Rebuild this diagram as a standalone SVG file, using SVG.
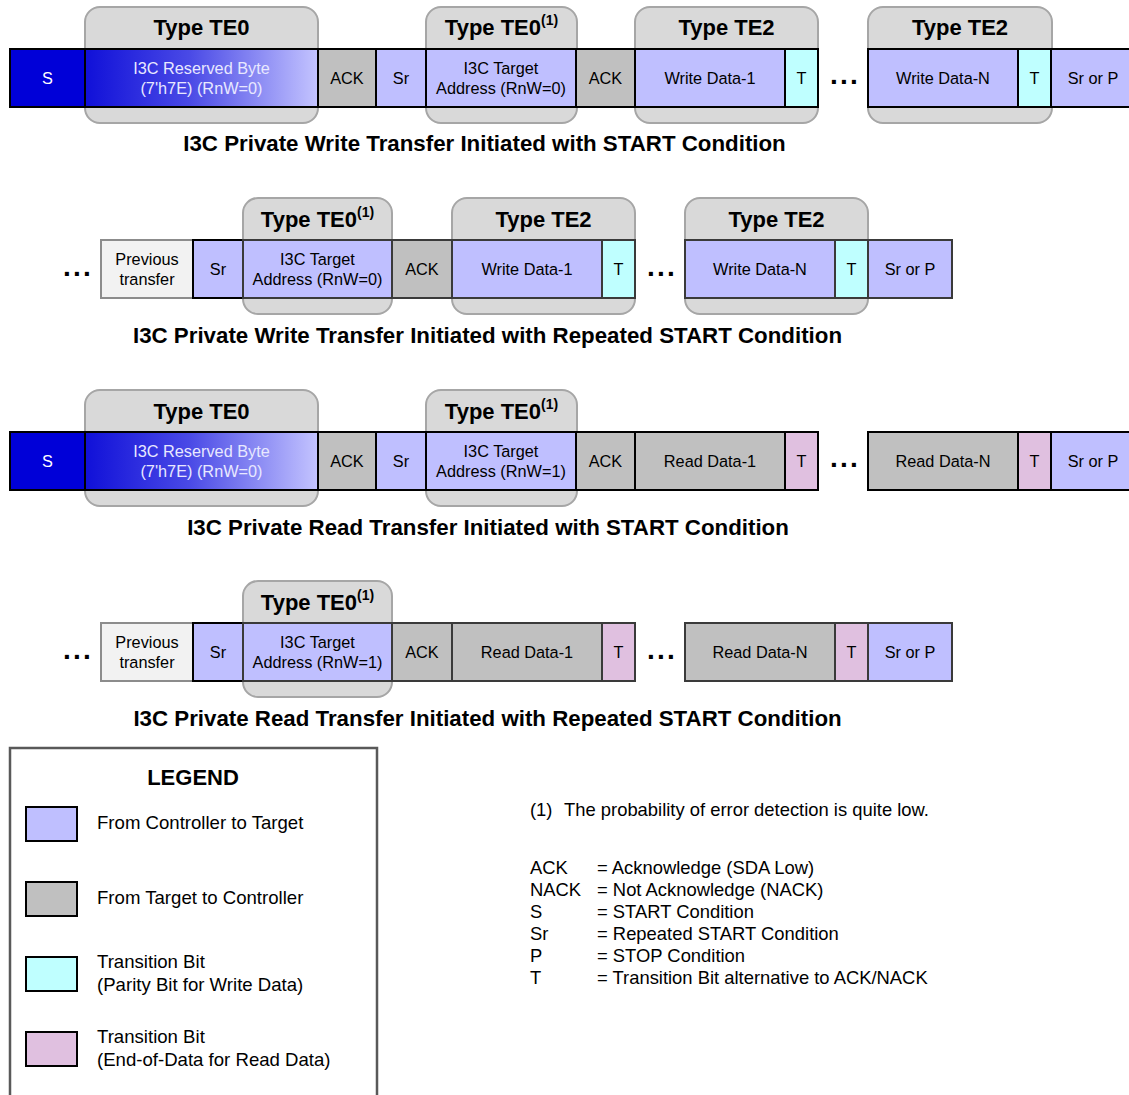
<svg xmlns="http://www.w3.org/2000/svg" width="1129" height="1095" viewBox="0 0 1129 1095">
  <defs>
    <linearGradient id="rsvGrad" x1="0" y1="0" x2="1" y2="0">
      <stop offset="0" stop-color="#1010d8"/>
      <stop offset="0.45" stop-color="#4a4ae6"/>
      <stop offset="1" stop-color="#c4c4ff"/>
    </linearGradient>
    <style>
      .grp{fill:#d9d9d9;stroke:#a6a6a6;stroke-width:2}
      .b{stroke:#000;stroke-width:2}
      .b2{stroke:#3a3a3a;stroke-width:2}
      .ctl{fill:#bfbfff}
      .tgt{fill:#c0c0c0}
      .par{fill:#bfffff}
      .eod{fill:#e0c0e0}
      .prev{fill:#f2f2f2;stroke:#8c8c8c;stroke-width:2}
      .start{fill:#0000d8}
      text{font-family:"Liberation Sans",Arial,Helvetica,sans-serif}
      .lbl{font-size:16.3px;text-anchor:middle;fill:#000}
      .wlbl{font-size:16.3px;text-anchor:middle;fill:#e8e8ff}
      .cap{font-size:22px;font-weight:bold;text-anchor:middle;fill:#000}
      .sup{font-size:14px}
      .ttl{font-size:22.3px;font-weight:bold;text-anchor:middle;fill:#000}
      .dots{font-size:28px;font-weight:bold;text-anchor:middle;letter-spacing:2.2px;fill:#000}
      .leg{font-size:18.6px;fill:#000}
      .note{font-size:18.4px;fill:#000}
    </style>
  </defs>

  <!-- Type group frames (drawn behind the bit fields) -->
  <g id="frames">
    <g id="row1-frames">
      <rect class="grp" x="85" y="7" width="233" height="116" rx="15"/>
      <rect class="grp" x="426" y="7" width="151" height="116" rx="15"/>
      <rect class="grp" x="635" y="7" width="183" height="116" rx="15"/>
      <rect class="grp" x="868" y="7" width="184" height="116" rx="15"/>
      <text class="cap" x="201.5" y="35">Type TE0</text>
      <text class="cap" x="501.5" y="35">Type TE0<tspan class="sup" dy="-10">(1)</tspan></text>
      <text class="cap" x="726.5" y="35">Type TE2</text>
      <text class="cap" x="960" y="35">Type TE2</text>
    </g>
    <g id="row2-frames">
      <rect class="grp" x="243" y="198" width="149" height="116" rx="15"/>
      <rect class="grp" x="452" y="198" width="183" height="116" rx="15"/>
      <rect class="grp" x="685" y="198" width="183" height="116" rx="15"/>
      <text class="cap" x="317.5" y="227">Type TE0<tspan class="sup" dy="-10">(1)</tspan></text>
      <text class="cap" x="543.5" y="227">Type TE2</text>
      <text class="cap" x="776.5" y="227">Type TE2</text>
    </g>
    <g id="row3-frames">
      <rect class="grp" x="85" y="390" width="233" height="116" rx="15"/>
      <rect class="grp" x="426" y="390" width="151" height="116" rx="15"/>
      <text class="cap" x="201.5" y="419">Type TE0</text>
      <text class="cap" x="501.5" y="419">Type TE0<tspan class="sup" dy="-10">(1)</tspan></text>
    </g>
    <g id="row4-frames">
      <rect class="grp" x="243" y="581" width="149" height="116" rx="15"/>
      <text class="cap" x="317.5" y="610">Type TE0<tspan class="sup" dy="-10">(1)</tspan></text>
    </g>
  </g>

  <!-- Row 1: private write, START -->
  <g id="row1">
    <rect class="b start" x="10" y="49" width="75" height="58"/>
    <text class="wlbl" x="47.5" y="84" style="fill:#fff">S</text>
    <rect class="b" x="85" y="49" width="233" height="58" fill="url(#rsvGrad)"/>
    <text class="wlbl" x="201.5" y="74">I3C Reserved Byte</text>
    <text class="wlbl" x="201.5" y="94">(7'h7E) (RnW=0)</text>
    <rect class="b tgt" x="318" y="49" width="58" height="58"/>
    <text class="lbl" x="347" y="84">ACK</text>
    <rect class="b ctl" x="376" y="49" width="50" height="58"/>
    <text class="lbl" x="401" y="84">Sr</text>
    <rect class="b ctl" x="426" y="49" width="150" height="58"/>
    <text class="lbl" x="501" y="74">I3C Target</text>
    <text class="lbl" x="501" y="94">Address (RnW=0)</text>
    <rect class="b tgt" x="576" y="49" width="59" height="58"/>
    <text class="lbl" x="605.5" y="84">ACK</text>
    <rect class="b ctl" x="635" y="49" width="150" height="58"/>
    <text class="lbl" x="710" y="84">Write Data-1</text>
    <rect class="b par" x="785" y="49" width="33" height="58"/>
    <text class="lbl" x="801.5" y="84">T</text>
    <text class="dots" x="845" y="84">...</text>
    <rect class="b ctl" x="868" y="49" width="150" height="58"/>
    <text class="lbl" x="943" y="84">Write Data-N</text>
    <rect class="b par" x="1018" y="49" width="33" height="58"/>
    <text class="lbl" x="1034.5" y="84">T</text>
    <rect class="b ctl" x="1051" y="49" width="90" height="58"/>
    <text class="lbl" x="1093" y="84">Sr or P</text>
    <text class="ttl" x="484.5" y="151">I3C Private Write Transfer Initiated with START Condition</text>
  </g>

  <!-- Row 2: private write, repeated START -->
  <g id="row2">
    <text class="dots" x="78" y="276">...</text>
    <rect class="prev" x="101" y="240" width="92" height="58"/>
    <text class="lbl" x="147" y="265">Previous</text>
    <text class="lbl" x="147" y="285">transfer</text>
    <rect class="b ctl" x="193" y="240" width="50" height="58"/>
    <text class="lbl" x="218" y="275">Sr</text>
    <rect class="b2 ctl" x="243" y="240" width="149" height="58"/>
    <text class="lbl" x="317.5" y="265">I3C Target</text>
    <text class="lbl" x="317.5" y="285">Address (RnW=0)</text>
    <rect class="b2 tgt" x="392" y="240" width="60" height="58"/>
    <text class="lbl" x="422" y="275">ACK</text>
    <rect class="b2 ctl" x="452" y="240" width="150" height="58"/>
    <text class="lbl" x="527" y="275">Write Data-1</text>
    <rect class="b2 par" x="602" y="240" width="33" height="58"/>
    <text class="lbl" x="618.5" y="275">T</text>
    <text class="dots" x="662" y="276">...</text>
    <rect class="b2 ctl" x="685" y="240" width="150" height="58"/>
    <text class="lbl" x="760" y="275">Write Data-N</text>
    <rect class="b2 par" x="835" y="240" width="33" height="58"/>
    <text class="lbl" x="851.5" y="275">T</text>
    <rect class="b2 ctl" x="868" y="240" width="84" height="58"/>
    <text class="lbl" x="910" y="275">Sr or P</text>
    <text class="ttl" x="487.5" y="343">I3C Private Write Transfer Initiated with Repeated START Condition</text>
  </g>

  <!-- Row 3: private read, START -->
  <g id="row3">
    <rect class="b start" x="10" y="432" width="75" height="58"/>
    <text class="wlbl" x="47.5" y="467" style="fill:#fff">S</text>
    <rect class="b" x="85" y="432" width="233" height="58" fill="url(#rsvGrad)"/>
    <text class="wlbl" x="201.5" y="457">I3C Reserved Byte</text>
    <text class="wlbl" x="201.5" y="477">(7'h7E) (RnW=0)</text>
    <rect class="b tgt" x="318" y="432" width="58" height="58"/>
    <text class="lbl" x="347" y="467">ACK</text>
    <rect class="b ctl" x="376" y="432" width="50" height="58"/>
    <text class="lbl" x="401" y="467">Sr</text>
    <rect class="b ctl" x="426" y="432" width="150" height="58"/>
    <text class="lbl" x="501" y="457">I3C Target</text>
    <text class="lbl" x="501" y="477">Address (RnW=1)</text>
    <rect class="b tgt" x="576" y="432" width="59" height="58"/>
    <text class="lbl" x="605.5" y="467">ACK</text>
    <rect class="b tgt" x="635" y="432" width="150" height="58"/>
    <text class="lbl" x="710" y="467">Read Data-1</text>
    <rect class="b eod" x="785" y="432" width="33" height="58"/>
    <text class="lbl" x="801.5" y="467">T</text>
    <text class="dots" x="845" y="467">...</text>
    <rect class="b tgt" x="868" y="432" width="150" height="58"/>
    <text class="lbl" x="943" y="467">Read Data-N</text>
    <rect class="b eod" x="1018" y="432" width="33" height="58"/>
    <text class="lbl" x="1034.5" y="467">T</text>
    <rect class="b ctl" x="1051" y="432" width="90" height="58"/>
    <text class="lbl" x="1093" y="467">Sr or P</text>
    <text class="ttl" x="488" y="535">I3C Private Read Transfer Initiated with START Condition</text>
  </g>

  <!-- Row 4: private read, repeated START -->
  <g id="row4">
    <text class="dots" x="78" y="659">...</text>
    <rect class="prev" x="101" y="623" width="92" height="58"/>
    <text class="lbl" x="147" y="648">Previous</text>
    <text class="lbl" x="147" y="668">transfer</text>
    <rect class="b ctl" x="193" y="623" width="50" height="58"/>
    <text class="lbl" x="218" y="658">Sr</text>
    <rect class="b2 ctl" x="243" y="623" width="149" height="58"/>
    <text class="lbl" x="317.5" y="648">I3C Target</text>
    <text class="lbl" x="317.5" y="668">Address (RnW=1)</text>
    <rect class="b2 tgt" x="392" y="623" width="60" height="58"/>
    <text class="lbl" x="422" y="658">ACK</text>
    <rect class="b2 tgt" x="452" y="623" width="150" height="58"/>
    <text class="lbl" x="527" y="658">Read Data-1</text>
    <rect class="b2 eod" x="602" y="623" width="33" height="58"/>
    <text class="lbl" x="618.5" y="658">T</text>
    <text class="dots" x="662" y="659">...</text>
    <rect class="b2 tgt" x="685" y="623" width="150" height="58"/>
    <text class="lbl" x="760" y="658">Read Data-N</text>
    <rect class="b2 eod" x="835" y="623" width="33" height="58"/>
    <text class="lbl" x="851.5" y="658">T</text>
    <rect class="b2 ctl" x="868" y="623" width="84" height="58"/>
    <text class="lbl" x="910" y="658">Sr or P</text>
    <text class="ttl" x="487.5" y="726">I3C Private Read Transfer Initiated with Repeated START Condition</text>
  </g>

  <!-- Legend panel -->
  <g id="legend">
    <path d="M10,1100 V748 H377 V1100" fill="none" stroke="#595959" stroke-width="2.5"/>
    <text class="ttl" x="193" y="785" style="font-size:22px">LEGEND</text>
    <rect class="b ctl" x="26" y="807" width="51" height="34"/>
    <text class="leg" x="97" y="829">From Controller to Target</text>
    <rect class="b tgt" x="26" y="882" width="51" height="34"/>
    <text class="leg" x="97" y="904">From Target to Controller</text>
    <rect class="b par" x="26" y="957" width="51" height="34"/>
    <text class="leg" x="97" y="968">Transition Bit</text>
    <text class="leg" x="97" y="991">(Parity Bit for Write Data)</text>
    <rect class="b eod" x="26" y="1032" width="51" height="34"/>
    <text class="leg" x="97" y="1043">Transition Bit</text>
    <text class="leg" x="97" y="1066">(End-of-Data for Read Data)</text>
  </g>

  <!-- Footnote and abbreviations -->
  <g id="notes">
    <text class="note" x="530" y="816">(1)</text>
    <text class="note" x="564" y="816">The probability of error detection is quite low.</text>
    <text class="note" x="530" y="874">ACK</text>
    <text class="note" x="597" y="874">= Acknowledge (SDA Low)</text>
    <text class="note" x="530" y="896">NACK</text>
    <text class="note" x="597" y="896">= Not Acknowledge (NACK)</text>
    <text class="note" x="530" y="918">S</text>
    <text class="note" x="597" y="918">= START Condition</text>
    <text class="note" x="530" y="940">Sr</text>
    <text class="note" x="597" y="940">= Repeated START Condition</text>
    <text class="note" x="530" y="962">P</text>
    <text class="note" x="597" y="962">= STOP Condition</text>
    <text class="note" x="530" y="984">T</text>
    <text class="note" x="597" y="984">= Transition Bit alternative to ACK/NACK</text>
  </g>
</svg>
